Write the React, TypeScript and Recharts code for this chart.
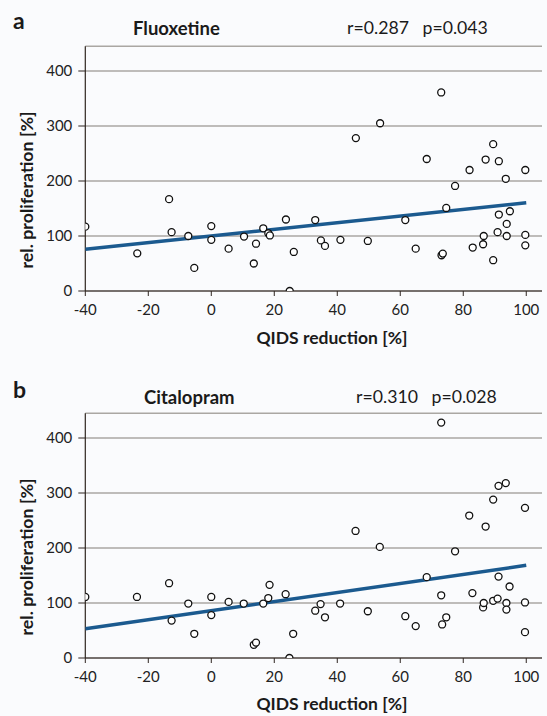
import React from "react";
import { ScatterChart, Scatter, XAxis, YAxis, CartesianGrid } from "recharts";

// ---- data ----
const xTicks = [-40, -20, 0, 20, 40, 60, 80, 100];
const yTicks = [0, 100, 200, 300, 400];

const fluoxetineX = [
  -40, -23.5, -13.4, -12.6, -7.3, -5.4, 0, 0, 5.5, 10.4,
  13.5, 14.2, 16.5, 18.1, 18.6, 23.7, 24.9, 26.2, 33, 34.8,
  36.1, 41, 45.9, 49.7, 53.6, 61.6, 64.9, 68.4, 73, 73.1,
  73.5, 74.6, 77.4, 82, 83, 86.3, 86.5, 87.1, 89.5, 89.5,
  90.9, 91.3, 91.3, 93.5, 93.8, 93.8, 94.8, 99.7, 99.7, 99.7,
];
const fluoxetineY = [
  117, 68.5, 167, 107, 100, 42, 118, 93, 77, 99,
  50, 86, 114, 105, 101, 130, 0, 71, 129, 92,
  82, 93, 278, 91, 305, 129, 77, 240, 361, 65,
  68, 151, 191, 220, 79, 85, 100, 239, 267, 56,
  107, 139, 236, 204, 122, 100, 145, 220, 102, 83,
];
const fluoxetineFitX = [-40, 100];
const fluoxetineFitY = [76, 160.5];

const citalopramX = [
  -40, -23.6, -13.4, -12.6, -7.3, -5.4, 0, 0, 5.5, 10.3,
  13.5, 14.2, 16.5, 18.1, 18.5, 23.6, 24.8, 26, 33, 34.7,
  36.1, 40.9, 45.8, 49.7, 53.5, 61.6, 64.9, 68.4, 73, 73,
  73.3, 74.6, 77.4, 81.9, 82.9, 86.3, 86.5, 87.1, 89.5, 89.5,
  90.9, 91.2, 91.2, 93.5, 93.7, 93.7, 94.7, 99.6, 99.6, 99.6,
];
const citalopramY = [
  111, 111, 136, 68, 99, 44, 111, 78, 102, 99,
  24, 28, 99, 109, 133, 116, 0, 44, 86, 98,
  74, 99, 231, 85, 202, 76, 58, 147, 428, 114,
  61, 74, 194, 259, 118, 92, 100, 239, 288, 104,
  108, 148, 313, 318, 100, 88, 130, 273, 101, 47,
];
const citalopramFitX = [-40, 100];
const citalopramFitY = [53, 168.5];

const zip = (xs: number[], ys: number[]) => xs.map((x, i) => ({ x, y: ys[i] }));

const FONT = "Lato, 'DejaVu Sans', sans-serif";
const BG = "#fafbfd";
const AXIS = "#2e2520";
const GRID = "#aaa7a3";
const FIT = "#1b5a8f";

const Dot = (props: any) => {
  const { cx, cy } = props;
  if (cx == null || cy == null) return <g />;
  return <circle cx={cx} cy={cy} r={3.5} fill="#ffffff" stroke="#111" strokeWidth={1.3} />;
};

type PanelProps = {
  top: number;
  letter: string;
  title: string;
  stats: string;
  titleLeft: number;
  statsLeft: number;
  points: { x: number; y: number }[];
  fit: { x: number; y: number }[];
  letterY: number;
  titleY: number;
  xTitleY: number;
};

const PANEL_H = 367;

function Panel(p: PanelProps) {
  return (
    <div style={{ position: "absolute", left: 0, top: p.top, width: 547, height: PANEL_H }}>
      <ScatterChart
        width={547}
        height={PANEL_H}
        margin={{ top: 46.25, right: 5, left: 25.3, bottom: 46 }}
        style={{ fontFamily: FONT }}
      >
        <CartesianGrid horizontal={true} vertical={false} stroke={GRID} strokeWidth={1.3} />
        <XAxis
          type="number"
          dataKey="x"
          domain={[-40, 105]}
          ticks={xTicks}
          allowDataOverflow
          height={30}
          stroke={AXIS}
          tickSize={5}
          tickMargin={8}
          tick={{ fill: "#222", fontSize: 15, fontFamily: FONT }}
          axisLine={{ stroke: AXIS, strokeWidth: 1.2 }}
          tickLine={{ stroke: AXIS }}
        />
        <YAxis
          type="number"
          dataKey="y"
          domain={[0, 445]}
          ticks={yTicks}
          allowDataOverflow
          width={60}
          stroke={AXIS}
          tickSize={7}
          tickMargin={6}
          tick={{ fill: "#222", fontSize: 15, fontFamily: FONT }}
          axisLine={{ stroke: AXIS, strokeWidth: 1.2 }}
          tickLine={{ stroke: AXIS }}
        />
        <Scatter
          data={p.fit}
          line={{ stroke: FIT, strokeWidth: 3.5 }}
          shape={() => <g />}
          isAnimationActive={false}
          legendType="none"
        />
        <Scatter data={p.points} shape={Dot} isAnimationActive={false} legendType="none" />
      </ScatterChart>
      <div style={{ position: "absolute", left: 13, top: p.letterY - 14, fontFamily: FONT, fontWeight: 700, fontSize: 23, lineHeight: "28px", color: "#1a1a1a" }}>
        {p.letter}
      </div>
      <div style={{ position: "absolute", left: p.titleLeft, top: p.titleY - 12, fontFamily: FONT, fontWeight: 700, fontSize: 18.5, lineHeight: "24px", color: "#1a1a1a", whiteSpace: "pre" }}>
        {p.title}
      </div>
      <div style={{ position: "absolute", left: p.statsLeft, top: p.titleY - 12, fontFamily: FONT, fontWeight: 400, fontSize: 17.7, lineHeight: "24px", color: "#1a1a1a", whiteSpace: "pre" }}>
        {p.stats}
      </div>
      <div style={{ position: "absolute", left: 332, top: p.xTitleY, transform: "translate(-50%, -50%)", fontFamily: FONT, fontWeight: 700, fontSize: 17.5, lineHeight: "22px", color: "#1a1a1a", whiteSpace: "pre" }}>
        QIDS reduction [%]
      </div>
      <div style={{ position: "absolute", left: 25.7, top: 190, transform: "translate(-50%, -50%) rotate(-90deg)", fontFamily: FONT, fontWeight: 700, fontSize: 17.8, lineHeight: "22px", color: "#1a1a1a", whiteSpace: "pre" }}>
        rel. proliferation [%]
      </div>
    </div>
  );
}

export default function App() {
  return (
    <div style={{ position: "absolute", left: 0, top: 0, width: 547, height: 716, background: BG, overflow: "hidden" }}>
      <Panel
        top={0}
        letter="a"
        title="Fluoxetine"
        stats={"r=0.287   p=0.043"}
        titleLeft={133}
        statsLeft={347}
        points={zip(fluoxetineX, fluoxetineY)}
        fit={zip(fluoxetineFitX, fluoxetineFitY)}
        letterY={20}
        titleY={27.5}
        xTitleY={338}
      />
      <Panel
        top={367}
        letter="b"
        title="Citalopram"
        stats={"r=0.310   p=0.028"}
        titleLeft={144}
        statsLeft={356}
        points={zip(citalopramX, citalopramY)}
        fit={zip(citalopramFitX, citalopramFitY)}
        letterY={22}
        titleY={30}
        xTitleY={337}
      />
    </div>
  );
}
